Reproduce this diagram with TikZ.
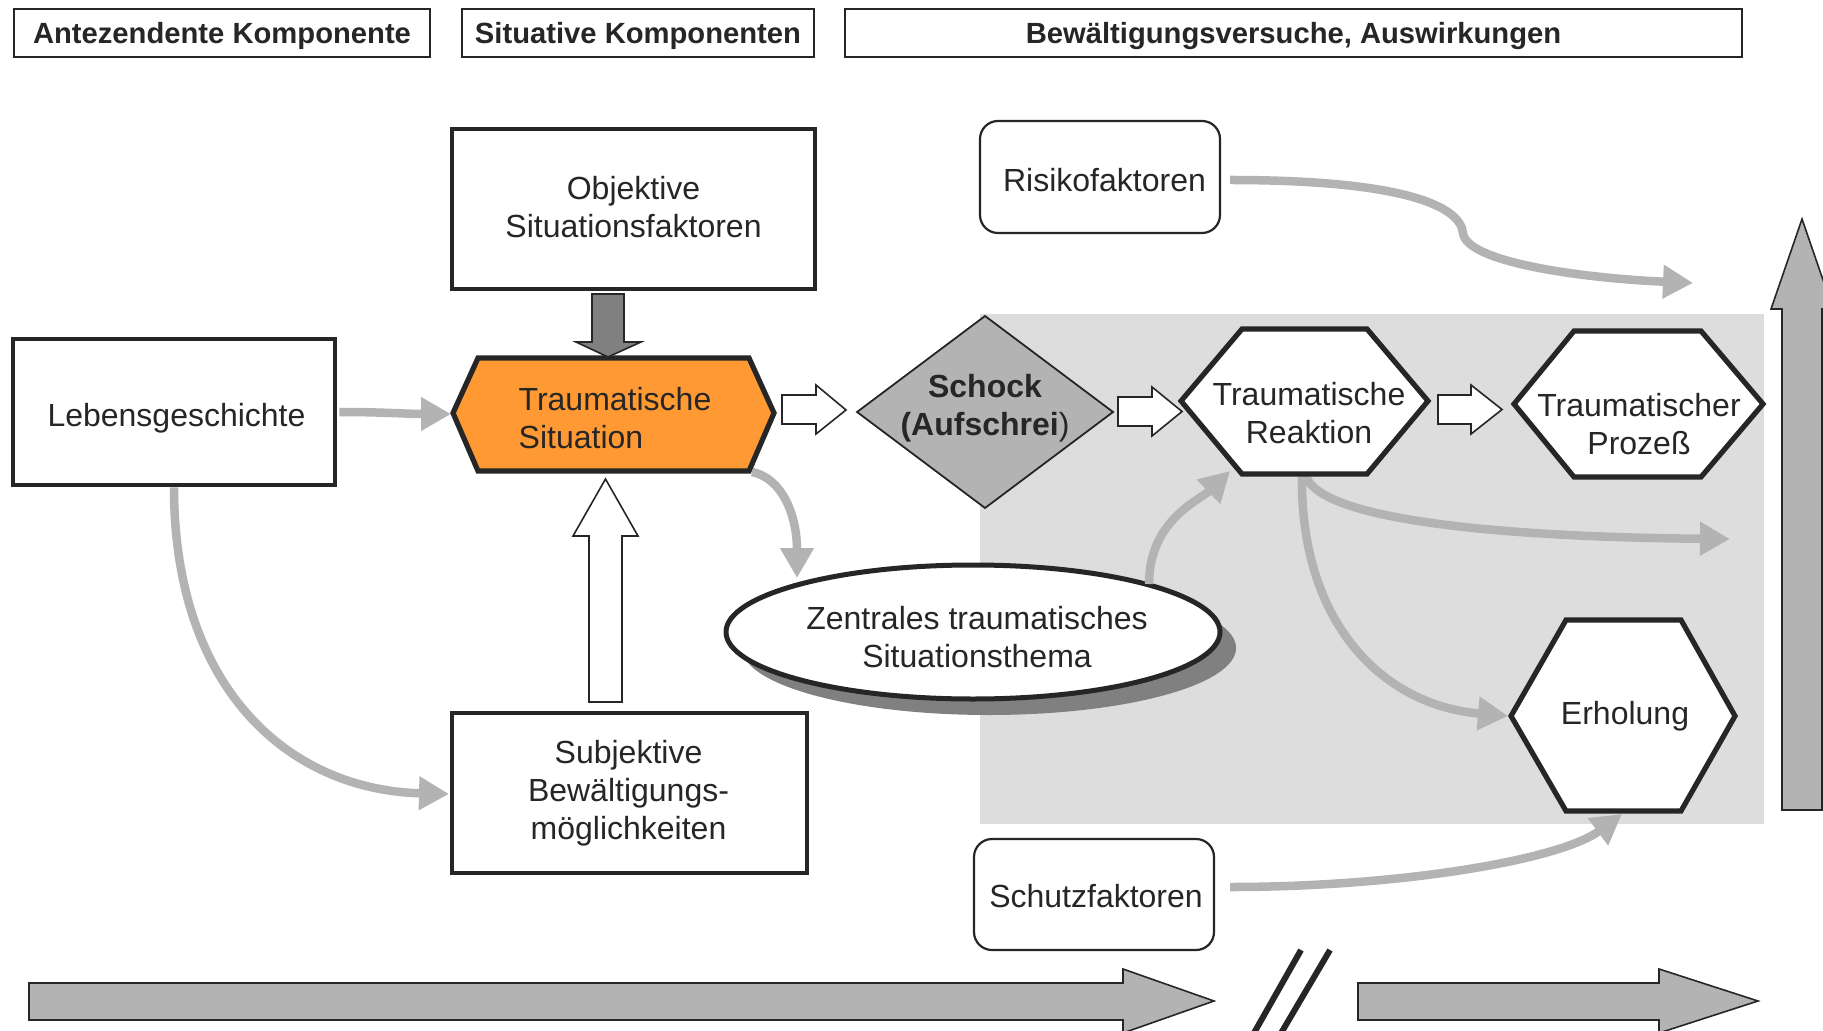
\documentclass[tikz,border=0pt]{standalone}
\usepackage{fontspec}
\setmainfont{Liberation Sans}
\usetikzlibrary{arrows.meta}
\definecolor{ink}{HTML}{262626}
\definecolor{orng}{HTML}{FF9933}
\definecolor{lgray}{HTML}{B3B3B3}
\definecolor{bggray}{HTML}{DDDDDD}
\definecolor{mgray}{HTML}{808080}
\begin{document}
\begin{tikzpicture}[x=0.5pt,y=-0.5pt,
  txt/.style={font=\fontsize{16}{19}\selectfont, text=ink, align=center, inner sep=0pt},
  hdr/.style={draw=ink, line width=1pt, font=\fontsize{14.6}{17}\selectfont\bfseries, text=ink, minimum height=24pt, inner sep=0pt, text depth=0pt},
  box/.style={draw=ink, line width=2.3pt, fill=white, inner sep=0pt},
  rbox/.style={draw=ink, line width=1.1pt, rounded corners=9pt, fill=white, inner sep=0pt},
  hexa/.style={draw=ink, line width=2.6pt, line join=miter, fill=white},
  blk/.style={draw=ink, line width=0.8pt, line join=miter},
  conn/.style={draw=lgray, line width=4.25pt, -{Triangle[length=15pt,width=16pt]}},
]
\useasboundingbox (0,0) rectangle (1823,1031);
\clip (0,0) rectangle (1823,1031);
\fill[white] (0,0) rectangle (1823,1031);

% background field
\fill[bggray] (980,314) rectangle (1764,824);

% headers
\node[hdr, minimum width=208pt] (h1) at (222,33) {Antezendente Komponente};
\node[hdr, minimum width=176pt] (h2) at (638,33) {Situative Komponenten};
\node[hdr, minimum width=448.5pt] (h3) at (1293.5,33) {Bewältigungsversuche, Auswirkungen};

% rectangular boxes
\node[box, minimum width=161pt, minimum height=73pt] (leb) at (174,412) {};
\node[txt] (lebt) at (176.5,418) {Lebensgeschichte};
\node[box, minimum width=181.5pt, minimum height=80pt] (obj) at (633.5,209) {};
\node[txt] (objt) at (633.5,207) {Objektive\\Situationsfaktoren};
\node[box, minimum width=177.5pt, minimum height=80pt] (sub) at (629.5,793) {};
\node[txt] (subt) at (628.5,793) {Subjektive\\Bewältigungs-\\möglichkeiten};

% anchor coordinates
\coordinate (sitL) at (451,414);
\coordinate (sitBR) at (752,472);
\coordinate (subW) at (449,794);
\coordinate (zenT) at (797,578);
\coordinate (zenTR) at (1149,584);
\coordinate (reakBL) at (1230,471);
\coordinate (reakB1) at (1306,476);
\coordinate (reakB2) at (1302,476);
\coordinate (outR) at (1730,539);
\coordinate (erhL) at (1508,716);
\coordinate (erhB) at (1622,814);
\coordinate (riskR) at (1230,180);
\coordinate (riskMid) at (1463,233);
\coordinate (outR2) at (1693,283);
\coordinate (schR) at (1230,887);

% gray curved connectors
\draw[conn] ([xshift=1pt]leb.east) to[out=0,in=180] (sitL);
\draw[conn] (leb.south) .. controls (174,690) and (290,790) .. (subW);
\draw[conn] (sitBR) .. controls (782,478) and (797,515) .. (zenT);
\draw[conn] (reakB1) .. controls (1320,520) and (1500,537) .. (outR);
\draw[conn] (reakB2) .. controls (1300,620) and (1380,705) .. (erhL);
\draw[conn] (riskR) .. controls (1400,180) and (1460,205) .. (riskMid)
  .. controls (1466,262) and (1580,278) .. (outR2);
\draw[conn] (schR) .. controls (1400,887) and (1560,860) .. (erhB);

% ellipse with shadow
\fill[mgray] (989,648) ellipse [x radius=123.5pt, y radius=33.5pt];
\draw[draw=ink, line width=2.5pt, fill=white] (973,632) ellipse [x radius=123.5pt, y radius=33.5pt];
\node[txt] (zen) at (977,637) {Zentrales traumatisches\\Situationsthema};
\draw[conn] (zenTR) .. controls (1149,520) and (1200,500) .. (reakBL);

% traumatic situation hexagon
\draw[hexa, fill=orng] (453,413) -- (478,358) -- (749,358) -- (774,413) -- (749,471) -- (478,471) -- cycle;
\node[txt, align=left] (sit) at (615,418) {Traumatische\\Situation};

% shock diamond
\draw[draw=ink, line width=0.9pt, fill=lgray] (857,412) -- (985,316) -- (1113,412) -- (985,508) -- cycle;
\node[txt, font=\fontsize{16}{19}\selectfont\bfseries] (shock) at (985,408.5) {Schock\\(Aufschrei\textmd{)}};

% reaction / process / recovery hexagons
\draw[hexa] (1181,401) -- (1242,329) -- (1367,329) -- (1428,401) -- (1367,474) -- (1242,474) -- cycle;
\node[txt] (reak) at (1309,413) {Traumatische\\Reaktion};
\draw[hexa] (1514,404) -- (1574,331) -- (1701,331) -- (1763,404) -- (1701,477) -- (1574,477) -- cycle;
\node[txt] (proz) at (1639,424) {Traumatischer\\Prozeß};
\draw[hexa] (1511,716) -- (1566,620) -- (1681,620) -- (1735,716) -- (1681,811) -- (1566,811) -- cycle;
\node[txt] (erh) at (1625,716) {Erholung};

% rounded boxes
\node[rbox, minimum width=120pt, minimum height=56pt] (risk) at (1100,177) {};
\node[txt] (riskt) at (1104.5,180.5) {Risikofaktoren};
\node[rbox, minimum width=120pt, minimum height=55.5pt] (schutz) at (1094,894.5) {};
\node[txt] (schutzt) at (1096,896.5) {Schutzfaktoren};

% block arrows
\draw[blk, fill=mgray] (592,294) -- (624,294) -- (624,342) -- (641,342) -- (608,357) -- (576,342) -- (592,342) -- cycle;
\draw[blk, fill=white] (589,702) -- (589,536) -- (573,536) -- (605.5,479) -- (638,536) -- (622,536) -- (622,702) -- cycle;
\draw[blk, fill=white] (782,395) -- (816,395) -- (816,385) -- (846,410) -- (816,434) -- (816,424) -- (782,424) -- cycle;
\draw[blk, fill=white] (1118,397) -- (1152,397) -- (1152,387) -- (1182,411.5) -- (1152,436) -- (1152,426) -- (1118,426) -- cycle;
\draw[blk, fill=white] (1438,395) -- (1471,395) -- (1471,385) -- (1502,409.5) -- (1471,434) -- (1471,424) -- (1438,424) -- cycle;

% big vertical arrow
\draw[blk, fill=lgray] (1782,810) -- (1782,309) -- (1771,309) -- (1802,219) -- (1833,309) -- (1822,309) -- (1822,810) -- cycle;

% bottom time arrows
\draw[blk, fill=lgray] (29,983) -- (1123,983) -- (1123,969) -- (1214,1001) -- (1123,1033) -- (1123,1020) -- (29,1020) -- cycle;
\draw[blk, fill=lgray] (1358,983) -- (1659,983) -- (1659,969) -- (1758,1001) -- (1659,1033) -- (1659,1020) -- (1358,1020) -- cycle;

% break mark
\draw[ink, line width=3pt] (1250,1040) -- (1301,950);
\draw[ink, line width=3pt] (1277,1040) -- (1330,950);
\end{tikzpicture}
\end{document}
